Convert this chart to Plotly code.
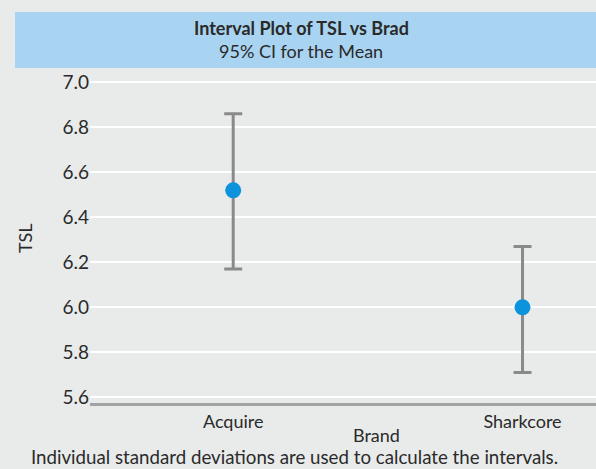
import plotly.graph_objects as go

categories = ["Acquire", "Sharkcore"]
means = [6.52, 6.00]
upper = [6.86, 6.27]
lower = [6.17, 5.71]
y_ticks = [5.6, 5.8, 6.0, 6.2, 6.4, 6.6, 6.8, 7.0]

err_plus = [u - m for u, m in zip(upper, means)]
err_minus = [m - l for m, l in zip(means, lower)]

FONT = "Lato"
TXT = "#2a2a2a"
BG = "#E9EBEA"

fig = go.Figure()
fig.add_trace(go.Scatter(
    x=categories, y=means, mode="markers",
    marker=dict(color="#0B93DB", size=16),
    error_y=dict(type="data", array=err_plus, arrayminus=err_minus,
                 color="#8A8A8A", thickness=3, width=9),
    showlegend=False,
))

W, H = 596, 469
L, R, T, B = 90, 0, 68, 66

fig.update_layout(
    width=W, height=H,
    margin=dict(l=L, r=R, t=T, b=B, pad=0),
    paper_bgcolor=BG, plot_bgcolor=BG,
    font=dict(family=FONT, size=18, color=TXT),
    xaxis=dict(range=[-0.495, 1.254], showgrid=False, zeroline=False,
               showline=True, linecolor="#A3A3A3", linewidth=3,
               ticks="", tickfont=dict(size=18, color=TXT)),
    yaxis=dict(range=[5.575, 7.0636], tickvals=y_ticks,
               ticktext=[f"{v:.1f}" for v in y_ticks],
               showgrid=True, gridcolor="white", gridwidth=2,
               zeroline=False, showline=False, ticks="",
               tickfont=dict(size=19, color=TXT)),
)

pw, ph = W - L - R, H - T - B
def px(x):
    return (x - L) / pw
def py(y):
    return (H - B - y) / ph

fig.add_shape(type="rect", xref="paper", yref="paper",
              x0=px(15), x1=1.0, y0=py(68), y1=py(12),
              fillcolor="#A9D4F1", line=dict(width=0), layer="below")

fig.add_annotation(x=px(301), y=py(28.5), xref="paper", yref="paper",
                   text="<b>Interval Plot of TSL vs Brad</b>", showarrow=False,
                   font=dict(size=18, color=TXT), xanchor="center", yanchor="middle")
fig.add_annotation(x=px(301), y=py(51), xref="paper", yref="paper",
                   text="95% CI for the Mean", showarrow=False,
                   font=dict(size=18, color=TXT), xanchor="center", yanchor="middle")
fig.add_annotation(x=px(376), y=py(435), xref="paper", yref="paper",
                   text="Brand", showarrow=False,
                   font=dict(size=18, color=TXT), xanchor="center", yanchor="middle")
fig.add_annotation(x=px(25), y=py(238), xref="paper", yref="paper",
                   text="TSL", showarrow=False, textangle=-90,
                   font=dict(size=18, color=TXT), xanchor="center", yanchor="middle")
fig.add_annotation(x=px(294.5), y=py(457), xref="paper", yref="paper",
                   text="Individual standard deviations are used to calculate the intervals.",
                   showarrow=False,
                   font=dict(size=18.7, color=TXT), xanchor="center", yanchor="middle")

fig.write_html("out.html", config={"displayModeBar": False},
               post_script="document.body.style.margin='0';document.body.style.background='%s';" % BG)
